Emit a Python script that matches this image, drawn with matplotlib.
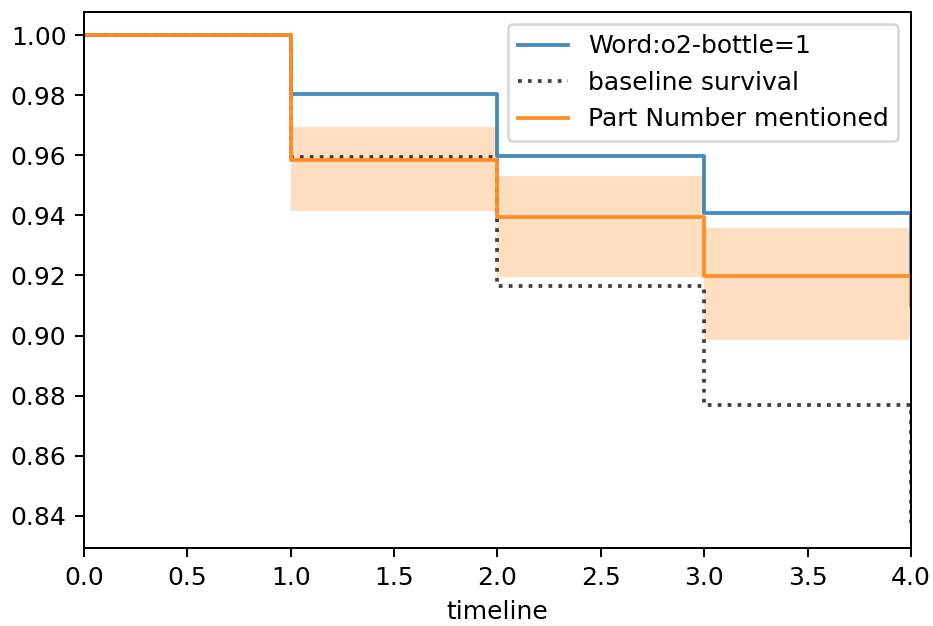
import matplotlib
matplotlib.use("Agg")
import matplotlib.pyplot as plt

timeline = [0.0, 1.0, 2.0, 3.0, 4.0]
word_o2_bottle = [1.0, 0.9805, 0.9598, 0.9408, 0.9200]
baseline_survival = [1.0, 0.9594, 0.9165, 0.8768, 0.8375]
part_number = [1.0, 0.9585, 0.9393, 0.9197, 0.9100]
part_number_upper = [1.0, 0.9695, 0.9531, 0.9358, 0.9358]
part_number_lower = [1.0, 0.9414, 0.9195, 0.8985, 0.8985]

labels = ["Word:o2-bottle=1", "baseline survival", "Part Number mentioned"]

DPI = 180
fig = plt.figure(figsize=(933 / DPI, 626 / DPI), dpi=DPI)
ax = fig.add_axes([0.090, 0.1246, 0.8864, 0.8564])

ax.plot(timeline, word_o2_bottle, drawstyle="steps-post", color="#1f77b4", lw=1.5, alpha=0.85, label=labels[0])
ax.plot(timeline, baseline_survival, drawstyle="steps-post", color="k", ls=":", lw=1.5, alpha=0.75, label=labels[1])
ax.fill_between(timeline, part_number_lower, part_number_upper, step="post", color="#ff7f0e", alpha=0.25, lw=0)
ax.plot(timeline, part_number, drawstyle="steps-post", color="#ff8c25", lw=1.5, label=labels[2])

ax.set_xlim(0, 4)
ax.set_ylim(0.8293, 1.0077)
ax.set_yticks([0.84, 0.86, 0.88, 0.90, 0.92, 0.94, 0.96, 0.98, 1.00])
ax.set_xticks([0, 0.5, 1, 1.5, 2, 2.5, 3, 3.5, 4])
ax.set_xlabel("timeline")
ax.legend(loc="upper right")

fig.savefig("out.png", dpi=DPI)
